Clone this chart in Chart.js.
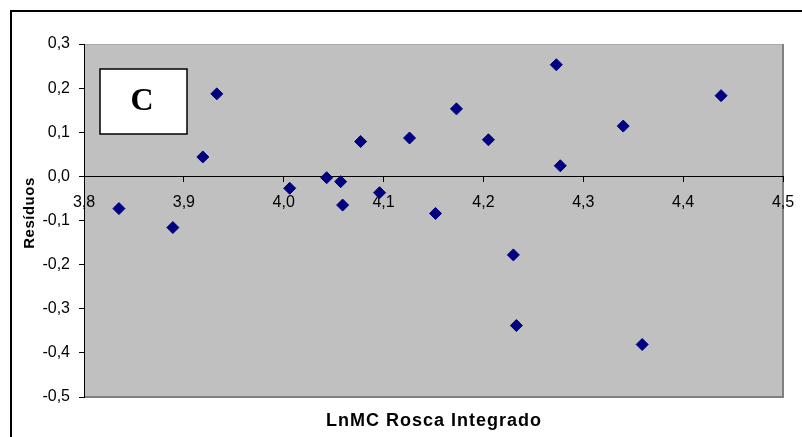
<!DOCTYPE html>
<html>
<head>
<meta charset="utf-8">
<script src="https://cdn.jsdelivr.net/npm/chart.js@4/dist/chart.umd.min.js"></script>
<style>
    html, body { margin: 0; padding: 0; background: #ffffff; }
    #wrap { width: 802px; height: 437px; position: relative; }
</style>
</head>
<body>
<div id="wrap"><canvas id="residChart"></canvas></div>
<script>
// LnMC Rosca Integrado (x) vs residuals (y)
const lnmc = [3.835, 3.889, 3.919, 3.933, 4.006, 4.043, 4.057, 4.059, 4.077, 4.096, 4.126,
    4.152, 4.173, 4.205, 4.230, 4.233, 4.273, 4.277, 4.340, 4.359, 4.438];
const residuos = [-0.073, -0.116, 0.044, 0.187, -0.027, -0.003, -0.012, -0.065, 0.079, -0.037, 0.087,
    -0.084, 0.153, 0.083, -0.178, -0.338, 0.253, 0.024, 0.114, -0.381, 0.183];

const xTicks = { min: 3.8, max: 4.5, step: 0.1 };
const yTicks = { min: -0.5, max: 0.3, step: 0.1 };
const panelLabel = 'C';
const xTitle = 'LnMC Rosca Integrado';
const yTitle = 'Resíduos';

const fmt = (v) => (Math.round(v * 10) / 10).toFixed(1).replace('.', ',');

// gray plot area, frame, panel box and axis titles
const decorations = {
    id: 'decorations',
    beforeDraw(chart) {
        const { ctx, chartArea: a } = chart;
        ctx.save();
        ctx.fillStyle = '#c0c0c0';
        ctx.fillRect(a.left, a.top, a.right - a.left, a.bottom - a.top);
        ctx.strokeStyle = '#a8a8a8';
        ctx.lineWidth = 1;
        ctx.beginPath();
        ctx.moveTo(a.left, a.top + 0.5);
        ctx.lineTo(a.right, a.top + 0.5);
        ctx.stroke();
        ctx.strokeStyle = '#808080';
        ctx.lineWidth = 2;
        ctx.beginPath();
        ctx.moveTo(a.right, a.top);
        ctx.lineTo(a.right, a.bottom);
        ctx.lineTo(a.left, a.bottom);
        ctx.stroke();

        // outer chart border (only top and left are inside the picture)
        ctx.strokeStyle = '#000000';
        ctx.lineWidth = 2;
        ctx.beginPath();
        ctx.moveTo(11, 437);
        ctx.lineTo(11, 11);
        ctx.lineTo(802, 11);
        ctx.stroke();

        // panel label box
        ctx.fillStyle = '#ffffff';
        ctx.fillRect(100, 69, 87, 65);
        ctx.strokeStyle = '#000000';
        ctx.lineWidth = 1.5;
        ctx.strokeRect(100, 69, 87, 65);
        ctx.fillStyle = '#000000';
        ctx.font = 'bold 32px "Liberation Serif", "Times New Roman", serif';
        ctx.textAlign = 'center';
        ctx.textBaseline = 'middle';
        ctx.fillText(panelLabel, 142, 102);

        // axis titles
        ctx.font = 'bold 18px "Liberation Sans", Arial, sans-serif';
        ctx.letterSpacing = '1px';
        ctx.fillText(xTitle, 434, 421);
        ctx.font = 'bold 15px "Liberation Sans", Arial, sans-serif';
        ctx.letterSpacing = '0.5px';
        ctx.translate(30, 213);
        ctx.rotate(-Math.PI / 2);
        ctx.fillText(yTitle, 0, 0);
        ctx.restore();
    }
};

const ctx = document.getElementById('residChart').getContext('2d');
const residChart = new Chart(ctx, {
    type: 'scatter',
    data: {
        datasets: [{
            label: yTitle,
            data: lnmc.map((x, i) => ({ x: x, y: residuos[i] })),
            pointStyle: 'rectRot',
            pointRadius: 6,
            pointHoverRadius: 6,
            backgroundColor: '#000080',
            borderColor: '#000080',
            borderWidth: 1
        }]
    },
    options: {
        responsive: true,
        maintainAspectRatio: false,
        animation: false,
        layout: {
            padding: { left: 0, top: 44, right: 19, bottom: 40 }
        },
        plugins: {
            legend: { display: false },
            tooltip: { enabled: false }
        },
        scales: {
            x: {
                type: 'linear',
                position: { y: 0 },
                min: xTicks.min,
                max: xTicks.max,
                afterFit: (scale) => { scale.paddingLeft = 0; scale.paddingRight = 0; },
                grid: {
                    drawOnChartArea: false,
                    drawTicks: true,
                    tickLength: 5,
                    color: '#000000'
                },
                border: { color: '#000000', width: 1 },
                ticks: {
                    stepSize: xTicks.step,
                    color: '#000000',
                    padding: 12,
                    maxRotation: 0,
                    font: { family: '"Liberation Sans", Arial, sans-serif', size: 16 },
                    callback: (value) => fmt(value)
                }
            },
            y: {
                type: 'linear',
                position: 'left',
                min: yTicks.min,
                max: yTicks.max,
                afterFit: (scale) => { scale.width = 84; },
                grid: {
                    drawOnChartArea: false,
                    drawTicks: true,
                    tickLength: 5,
                    color: '#000000'
                },
                border: { color: '#000000', width: 1 },
                ticks: {
                    stepSize: yTicks.step,
                    color: '#000000',
                    padding: 9,
                    font: { family: '"Liberation Sans", Arial, sans-serif', size: 16 },
                    callback: (value) => fmt(value)
                }
            }
        }
    },
    plugins: [decorations]
});
</script>
</body>
</html>
